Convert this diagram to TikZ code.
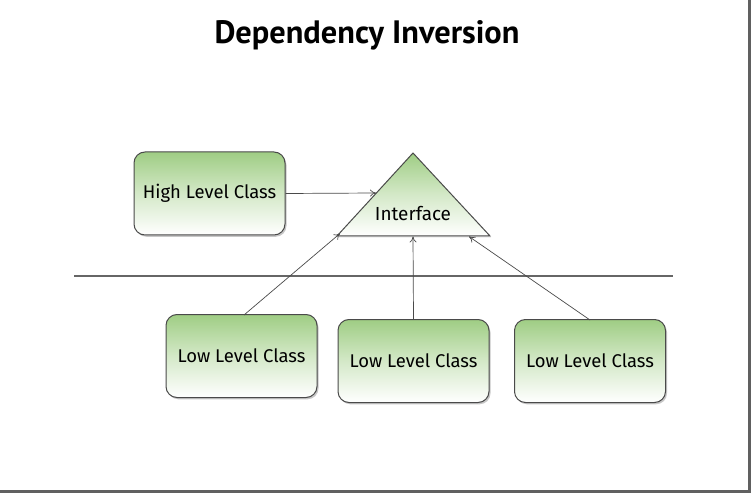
\documentclass[tikz,border=0pt]{standalone}
\usepackage{fontspec}
\setmainfont{Fira Sans}
\newfontfamily\titlefont{PT Sans}
\usetikzlibrary{shadows,arrows.meta}
\definecolor{boxgreen}{HTML}{9FCD84}
\definecolor{edgegray}{HTML}{4A4A4A}
\tikzset{
  classbox/.style={draw=edgegray, line width=1bp, rounded corners=11bp,
    minimum width=151bp, minimum height=83bp, inner sep=0pt,
    top color=boxgreen, bottom color=white, middle color=boxgreen!45!white,
    drop shadow={shadow xshift=1.5bp, shadow yshift=-1.8bp, fill=gray!55, opacity=0.8},
    font=\fontsize{18.5}{22}\selectfont},
  conn/.style={draw=edgegray, line width=0.7bp, -{To[length=6bp,width=7bp]}},
  sep/.style={draw=gray!80!black, line width=1.1bp},
  frame/.style={draw=gray!75!black, line width=3bp}
}
\begin{document}
\begin{tikzpicture}[x=1bp,y=-1bp]
\useasboundingbox (0,0) rectangle (754,495);
\fill[white] (0,0) rectangle (754,495);
% frame shadow
\draw[frame] (749.5,0) -- (749.5,491.5) -- (0,491.5);
% title
\node[font=\titlefont\bfseries\fontsize{32.5}{38}\selectfont] (title) at (367,35) {Dependency Inversion};
% triangle
\coordinate (apex) at (413,153);
\coordinate (bl) at (337,236);
\coordinate (br) at (490,236);
\path[draw=edgegray, line width=1bp, top color=boxgreen, bottom color=white, middle color=boxgreen!45!white,
  drop shadow={shadow xshift=1.2bp, shadow yshift=-1.5bp, fill=gray!45, opacity=0.6}]
  (apex) -- (br) -- (bl) -- cycle;
\node[font=\fontsize{19}{22}\selectfont] (iface) at (413,214) {Interface};
% boxes
\node[classbox] (high) at (209.5,193.5) {High Level Class};
\node[classbox] (low1) at (241.5,356) {Low Level Class};
\node[classbox] (low2) at (413.5,361) {Low Level Class};
\node[classbox] (low3) at (590,361) {Low Level Class};
% separator
\coordinate (sepL) at (74,276);
\coordinate (sepR) at (673,276);
\draw[sep] (sepL) -- (sepR);
% connector endpoints
\coordinate (tL) at (376,193);
\coordinate (t1) at (340,233.5);
\coordinate (t2) at (413,236.5);
\coordinate (t3) at (469,236.5);
\coordinate (s1) at (244,315);
\coordinate (s3) at (590,320);
\draw[conn] (high.east) -- (tL);
\draw[conn] (s1) -- (t1);
\draw[conn] (low2.north) -- (t2);
\draw[conn] (s3) -- (t3);
\end{tikzpicture}
\end{document}
